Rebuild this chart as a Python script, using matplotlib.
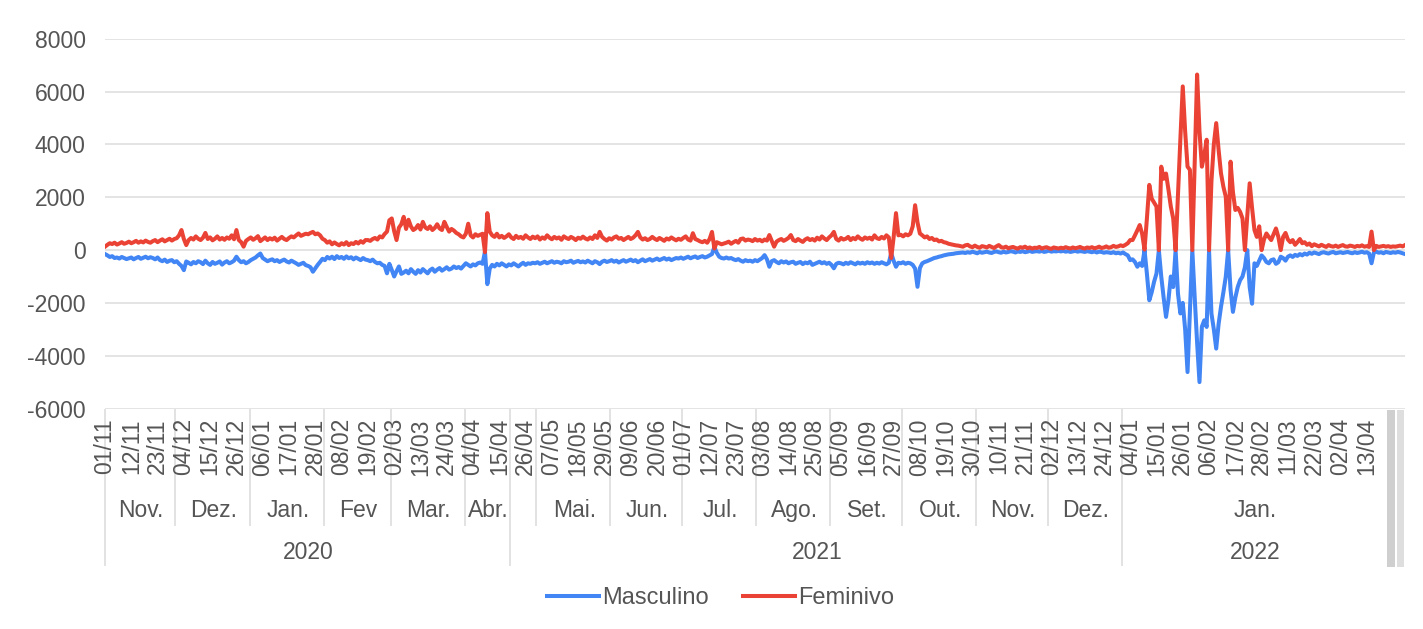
import matplotlib
matplotlib.use("Agg")
import matplotlib.pyplot as plt
import matplotlib.transforms as mtransforms
from matplotlib.patches import Rectangle
import numpy as np

plt.rcParams["font.family"] = ["Liberation Sans", "DejaVu Sans"]
plt.rcParams["axes.unicode_minus"] = False

# daily values, 01/11/2020 .. 29/04/2022 (one value per day)
feminivo = [
    130, 200, 260, 230, 280, 210, 250, 300, 240, 270,
    320, 260, 300, 350, 280, 330, 290, 360, 310, 280,
    340, 380, 300, 360, 410, 330, 380, 430, 360, 420,
    450, 560, 760, 420, 190, 380, 460, 400, 520, 430,
    380, 470, 650, 420, 480, 370, 430, 520, 400, 460,
    390, 480, 430, 560, 410, 760, 380, 300, 130, 350,
    420, 480, 390, 450, 530, 340, 410, 480, 380, 450,
    400, 470, 360, 430, 500, 420, 380, 460, 520, 480,
    560, 630, 540, 580, 620, 600, 650, 690, 600, 630,
    560, 430, 380, 280, 330, 220, 290, 230, 180, 260,
    210, 300, 190, 260, 230, 310, 250, 340, 280, 380,
    380, 350, 420, 460, 400, 520, 480, 610, 700, 1130,
    1200, 720, 380, 850, 980, 1260, 800, 1150, 900, 760,
    820, 950, 780, 1070, 860, 800, 900, 760, 840, 980,
    820, 760, 1070, 880, 700, 800, 740, 650, 600, 520,
    480, 620, 1000, 560, 480, 600, 540, 580, 620, -80,
    1400, 700, 560, 500, 620, 480, 540, 460, 520, 600,
    480, 420, 540, 460, 500, 430, 560, 480, 420, 510,
    450, 520, 400, 480, 430, 560, 470, 410, 500, 440,
    480, 390, 520, 460, 420, 500, 450, 380, 470, 430,
    510, 440, 400, 480, 420, 560, 460, 690, 500, 420,
    360, 450, 400, 480, 520, 430, 460, 380, 440, 500,
    420, 470, 560, 690, 480, 400, 450, 380, 420, 500,
    430, 380, 460, 410, 350, 440, 400, 480, 420, 370,
    430, 390, 460, 520, 400, 360, 640, 420, 380, 330,
    300, 350, 280, 420, 690, 60, 300, 260, 220, 250,
    280, 320, 240, 300, 350, 280, 420, 440, 360, 400,
    380, 340, 420, 360, 390, 330, 400, 360, 570, 350,
    130, 320, 380, 420, 350, 400, 460, 570, 380, 340,
    420, 360, 310, 400, 450, 380, 420, 360, 470, 400,
    520, 440, 380, 480, 560, 690, 420, 360, 460, 400,
    430, 500, 380, 460, 410, 520, 440, 390, 480, 430,
    470, 400, 560, 450, 420, 500, 440, 560, 480, -300,
    480, 1400, 560, 580, 520, 600, 560, 620, 900, 1700,
    1050, 630, 560, 480, 520, 420, 460, 380, 400, 330,
    350, 300, 280, 240, 220, 200, 180, 170, 150, 130,
    180, 200, 140, 110, 170, 120, 90, 150, 130, 100,
    160, 120, 80, 140, 190, 110, 90, 130, 70, 100,
    120, 80, 60, 110, 90, 130, 70, 100, 60, 90,
    80, 120, 60, 90, 110, 70, 50, 100, 80, 60,
    90, 70, 110, 80, 60, 100, 70, 90, 120, 80,
    60, 100, 80, 110, 70, 90, 130, 80, 100, 140,
    90, 110, 160, 120, 140, 180, 150, 200, 260, 380,
    380, 560, 750, 950, 620, 20, 1200, 2470, 1950, 1800,
    1650, 0, 3160, 2700, 2900, 2300, 1650, 1200, 0, 2100,
    4200, 6200, 4500, 3160, 3040, 0, 3300, 6650, 4500, 3160,
    3600, 4180, 0, 2600, 4000, 4810, 3800, 2910, 2400, 2025,
    0, 3350, 2200, 1520, 1600, 1450, 1200, 0, 1300, 2530,
    1600, 760, 500, 900, 0, 400, 630, 500, 380, 600,
    820, 500, 0, 500, 650, 400, 300, 380, 200, 300,
    420, 260, 300, 200, 250, 150, 220, 180, 140, 200,
    160, 120, 190, 150, 130, 170, 120, 160, 190, 140,
    130, 170, 150, 120, 160, 140, 180, 130, 150, 120,
    700, 0, 160, 120, 140, 160, 130, 150, 120, 140,
    130, 150, 170, 140, 190,
]

masculino = [
    -150, -200, -260, -230, -300, -280, -320, -260, -300, -340,
    -310, -280, -350, -300, -260, -330, -290, -250, -310, -270,
    -300, -350, -280, -380, -420, -360, -450, -400, -380, -460,
    -420, -520, -600, -760, -430, -480, -540, -450, -500, -420,
    -460, -530, -400, -500, -560, -450, -520, -480, -430, -550,
    -470, -420, -500, -460, -400, -250, -380, -460, -420, -500,
    -450, -380, -330, -280, -200, -130, -300, -360, -420, -380,
    -350, -420, -380, -450, -400, -360, -430, -470, -400, -450,
    -500, -560, -520, -480, -570, -600, -650, -820, -690, -560,
    -450, -330, -380, -260, -320, -250, -340, -230, -300, -260,
    -330, -240, -310, -270, -350, -280, -330, -380, -300, -360,
    -380, -420, -360, -450, -500, -480, -560, -600, -880, -520,
    -750, -1000, -800, -620, -900, -850, -780, -880, -720, -820,
    -900, -760, -850, -720, -800, -880, -760, -700, -820, -740,
    -680, -780, -720, -650, -740, -700, -620, -680, -640, -700,
    -600, -500, -560, -620, -540, -580, -500, -470, -520, -60,
    -1290, -700, -560, -620, -520, -580, -500, -560, -620, -540,
    -580, -500, -560, -620, -540, -480, -560, -500, -520, -480,
    -500, -460, -520, -480, -440, -500, -460, -420, -480, -440,
    -460, -500, -420, -460, -440, -400, -480, -440, -410, -460,
    -430, -470, -400, -450, -500, -420, -460, -530, -440, -400,
    -450, -420, -380, -440, -400, -470, -420, -380, -440, -400,
    -360, -420, -380, -460, -400, -350, -420, -380, -340, -400,
    -360, -320, -380, -340, -300, -360, -320, -380, -340, -300,
    -320, -280, -330, -290, -250, -310, -270, -240, -300, -260,
    -230, -280, -250, -200, -150, 120, -100, -250, -300, -320,
    -280, -320, -300, -350, -380, -340, -400, -440, -380, -420,
    -400, -440, -380, -420, -360, -300, -190, -350, -630, -420,
    -380, -450, -500, -420, -470, -430, -500, -460, -440, -520,
    -480, -450, -530, -470, -500, -440, -560, -520, -480, -440,
    -500, -460, -520, -480, -560, -690, -520, -480, -500, -540,
    -480, -520, -460, -500, -540, -470, -510, -480, -520, -460,
    -500, -470, -520, -480, -510, -460, -500, -540, -480, -120,
    -400, -630, -480, -500, -460, -520, -480, -500, -560, -700,
    -1390, -680, -500, -450, -420, -380, -340, -300, -280, -250,
    -230, -200, -180, -160, -150, -140, -120, -110, -100, -90,
    -110, -80, -100, -60, -90, -120, -70, -100, -80, -60,
    -90, -110, -70, -50, -80, -100, -60, -90, -70, -40,
    -60, -90, -50, -70, -40, -80, -60, -30, -70, -50,
    -40, -60, -30, -70, -50, -20, -60, -40, -50, -30,
    -50, -30, -60, -40, -70, -50, -30, -60, -40, -50,
    -70, -40, -60, -80, -50, -90, -60, -70, -100, -80,
    -90, -110, -80, -120, -100, -130, -90, -150, -200, -380,
    -350, -450, -630, -500, -600, 0, -900, -1900, -1600, -1200,
    -890, 0, -1000, -1800, -2530, -1900, -1000, -1400, 0, -1650,
    -2400, -2000, -3000, -4620, -2280, 0, -1800, -3500, -5000, -2900,
    -2660, -2910, 0, -2400, -3000, -3730, -2800, -2150, -1600, -1010,
    0, -1500, -2340, -1800, -1400, -1140, -1000, -650, 0, -1400,
    -2030, -500, -600, -400, -200, -300, -450, -500, -380, -350,
    -520, -460, -250, -300, -400, -250, -200, -260, -180, -220,
    -150, -200, -130, -170, -100, -140, -90, -120, -150, -100,
    -80, -110, -130, -90, -70, -120, -100, -80, -110, -90,
    -70, -100, -120, -80, -110, -90, -60, -100, -80, -130,
    -500, -80, -60, -100, -80, -120, -70, -90, -110, -80,
    -100, -70, -90, -120, -150,
]

day_labels = [
    "01/11", "12/11", "23/11", "04/12", "15/12", "26/12", "06/01", "17/01",
    "28/01", "08/02", "19/02", "02/03", "13/03", "24/03", "04/04", "15/04",
    "26/04", "07/05", "18/05", "29/05", "09/06", "20/06", "01/07", "12/07",
    "23/07", "03/08", "14/08", "25/08", "05/09", "16/09", "27/09", "08/10",
    "19/10", "30/10", "10/11", "21/11", "02/12", "13/12", "24/12", "04/01",
    "15/01", "26/01", "06/02", "17/02", "28/02", "11/03", "22/03", "02/04",
    "13/04",
]
label_step = 11

month_names = ["Nov.", "Dez.", "Jan.", "Fev", "Mar.", "Abr.", "", "Mai.",
               "Jun.", "Jul.", "Ago.", "Set.", "Out.", "Nov.", "Dez.", "Jan."]
month_starts = [0, 30, 61, 92, 120, 151, 170, 181, 212, 242, 273, 304, 334,
                365, 395, 426]
year_names = ["2020", "2021", "2022"]
year_starts = [0, 170, 426]
groups_end = 537

y_ticks = [-6000, -4000, -2000, 0, 2000, 4000, 6000, 8000]

BLUE = "#4285F4"
RED = "#EA4335"
TEXT = "#555555"
GRID = "#e2e2e2"
FS = 16.5

W, H = 1423, 629
fig = plt.figure(figsize=(W / 100, H / 100), dpi=100)
ax_left, ax_right = 105, 1405
ax_top, ax_bottom = 38.9, 408.5
ax = fig.add_axes([ax_left / W, 1 - ax_bottom / H,
                   (ax_right - ax_left) / W, (ax_bottom - ax_top) / H])

days = np.arange(len(feminivo))
ax.plot(days, masculino, color=BLUE, lw=2.9, label="Masculino", zorder=3)
ax.plot(days, feminivo, color=RED, lw=2.9, label="Feminivo", zorder=4)

ax.set_xlim(0, len(feminivo) - 1)
ax.set_ylim(-6000, 8000)
ax.set_yticks(y_ticks)
ax.set_yticklabels([str(v) for v in y_ticks], fontsize=FS, color=TEXT)
ax.yaxis.grid(True, color=GRID, lw=1.3)
ax.set_axisbelow(True)
ax.tick_params(axis="y", length=0, pad=14)
for s in ax.spines.values():
    s.set_visible(False)

ax.set_xticks(np.arange(len(day_labels)) * label_step)
ax.set_xticklabels(day_labels, rotation=90, fontsize=FS, color=TEXT)
ax.tick_params(axis="x", length=0, pad=7)

# hierarchical month / year axis below the day labels
px = ax_bottom - ax_top
def ay(y_pix):
    return (ax_bottom - y_pix) / px

trans = mtransforms.blended_transform_factory(ax.transData, ax.transAxes)
bounds = month_starts + [groups_end]
for i, name in enumerate(month_names):
    x0 = bounds[i] - 0.5 if bounds[i] > 0 else 0
    bottom = 565 if bounds[i] in year_starts else 525
    ax.plot([x0, x0], [ay(410), ay(bottom)], color=GRID, lw=1.4,
            transform=trans, clip_on=False, zorder=0.1)
    if name:
        ax.text((bounds[i] + bounds[i + 1]) / 2, ay(517), name, ha="center",
                va="baseline", fontsize=FS, color=TEXT, transform=trans)

ybounds = year_starts + [groups_end]
for i, name in enumerate(year_names):
    ax.text((ybounds[i] + ybounds[i + 1]) / 2, ay(559), name, ha="center",
            va="baseline", fontsize=FS, color=TEXT, transform=trans)

# collapsed groups at the right end
ax.add_patch(Rectangle((536.4, ay(567)), 3.3, ay(410) - ay(567),
                       color="#cfcfcf", transform=trans, clip_on=False, lw=0))
ax.add_patch(Rectangle((540.6, ay(567)), 2.9, ay(410) - ay(567),
                       color="#dedede", transform=trans, clip_on=False, lw=0))

ax.legend(loc="center", bbox_to_anchor=(0.5 + 9 / W, 1 - 598 / H),
          bbox_transform=fig.transFigure, ncol=2, frameon=False,
          fontsize=17, labelcolor=TEXT, handlelength=2.2, handletextpad=0.13,
          columnspacing=1.45)

fig.savefig("out.png", dpi=100, facecolor="white")
